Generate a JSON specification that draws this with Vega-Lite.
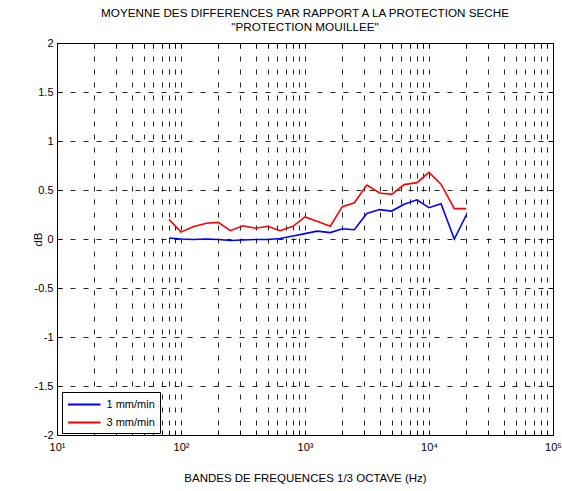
{
  "$schema": "https://vega.github.io/schema/vega-lite/v6.json",
  "width": 496,
  "height": 392,
  "autosize": "none",
  "padding": {"left": 57, "top": 43, "right": 9, "bottom": 56},
  "background": "white",
  "title": {
    "text": ["MOYENNE DES DIFFERENCES PAR RAPPORT A LA PROTECTION SECHE", "\"PROTECTION MOUILLEE\""],
    "font": "Liberation Sans",
    "fontSize": 11.7,
    "fontWeight": "normal",
    "color": "#000",
    "offset": 3,
    "lineHeight": 14,
    "anchor": "middle"
  },
  "config": {
    "view": {"stroke": "#000", "strokeWidth": 1},
    "axis": {
      "labelFont": "Liberation Sans",
      "labelFontSize": 11,
      "labelColor": "#000",
      "titleFont": "Liberation Sans",
      "titleFontSize": 11.5,
      "titleFontWeight": "normal",
      "titleColor": "#000",
      "domainColor": "#000",
      "tickColor": "#000",
      "gridColor": "#000",
      "gridOpacity": 0.85,
      "gridWidth": 1,
      "gridDash": [5, 8]
    }
  },
  "data": {
    "values": [
      {"f": 80, "series": "1 mm/min", "v": 0.01},
      {"f": 100, "series": "1 mm/min", "v": 0.0},
      {"f": 125, "series": "1 mm/min", "v": -0.005},
      {"f": 160, "series": "1 mm/min", "v": 0.0},
      {"f": 200, "series": "1 mm/min", "v": -0.005},
      {"f": 250, "series": "1 mm/min", "v": -0.015},
      {"f": 315, "series": "1 mm/min", "v": -0.01},
      {"f": 400, "series": "1 mm/min", "v": -0.005},
      {"f": 500, "series": "1 mm/min", "v": -0.005},
      {"f": 630, "series": "1 mm/min", "v": 0.005},
      {"f": 800, "series": "1 mm/min", "v": 0.03},
      {"f": 1000, "series": "1 mm/min", "v": 0.055},
      {"f": 1250, "series": "1 mm/min", "v": 0.08},
      {"f": 1600, "series": "1 mm/min", "v": 0.065},
      {"f": 2000, "series": "1 mm/min", "v": 0.105},
      {"f": 2500, "series": "1 mm/min", "v": 0.095},
      {"f": 3150, "series": "1 mm/min", "v": 0.26},
      {"f": 4000, "series": "1 mm/min", "v": 0.3},
      {"f": 5000, "series": "1 mm/min", "v": 0.285},
      {"f": 6300, "series": "1 mm/min", "v": 0.355},
      {"f": 8000, "series": "1 mm/min", "v": 0.4},
      {"f": 10000, "series": "1 mm/min", "v": 0.32},
      {"f": 12500, "series": "1 mm/min", "v": 0.36},
      {"f": 16000, "series": "1 mm/min", "v": 0.0},
      {"f": 20000, "series": "1 mm/min", "v": 0.245},
      {"f": 80, "series": "3 mm/min", "v": 0.2},
      {"f": 100, "series": "3 mm/min", "v": 0.07},
      {"f": 125, "series": "3 mm/min", "v": 0.125},
      {"f": 160, "series": "3 mm/min", "v": 0.16},
      {"f": 200, "series": "3 mm/min", "v": 0.17},
      {"f": 250, "series": "3 mm/min", "v": 0.085},
      {"f": 315, "series": "3 mm/min", "v": 0.135},
      {"f": 400, "series": "3 mm/min", "v": 0.11},
      {"f": 500, "series": "3 mm/min", "v": 0.13},
      {"f": 630, "series": "3 mm/min", "v": 0.085},
      {"f": 800, "series": "3 mm/min", "v": 0.13},
      {"f": 1000, "series": "3 mm/min", "v": 0.225},
      {"f": 1250, "series": "3 mm/min", "v": 0.18},
      {"f": 1600, "series": "3 mm/min", "v": 0.13},
      {"f": 2000, "series": "3 mm/min", "v": 0.33},
      {"f": 2500, "series": "3 mm/min", "v": 0.37},
      {"f": 3150, "series": "3 mm/min", "v": 0.55},
      {"f": 4000, "series": "3 mm/min", "v": 0.47},
      {"f": 5000, "series": "3 mm/min", "v": 0.455},
      {"f": 6300, "series": "3 mm/min", "v": 0.555},
      {"f": 8000, "series": "3 mm/min", "v": 0.575},
      {"f": 10000, "series": "3 mm/min", "v": 0.68},
      {"f": 12500, "series": "3 mm/min", "v": 0.56},
      {"f": 16000, "series": "3 mm/min", "v": 0.31},
      {"f": 20000, "series": "3 mm/min", "v": 0.31}
    ]
  },
  "resolve": {"axis": {"x": "independent", "y": "independent"}},
  "layer": [
    {
      "mark": {"type": "line", "strokeWidth": 1.6, "clip": true},
      "encoding": {
        "x": {
          "field": "f",
          "type": "quantitative",
          "scale": {"type": "log", "domain": [10, 100000], "nice": false},
          "axis": {
            "orient": "bottom",
            "title": "BANDES DE FREQUENCES 1/3 OCTAVE (Hz)",
            "titlePadding": 20,
            "values": [10,20,30,40,50,60,70,80,90,100,200,300,400,500,600,700,800,900,1000,2000,3000,4000,5000,6000,7000,8000,9000,10000,20000,30000,40000,50000,60000,70000,80000,90000,100000],
            "labelExpr": "datum.value == 10 ? '10¹' : datum.value == 100 ? '10²' : datum.value == 1000 ? '10³' : datum.value == 10000 ? '10⁴' : datum.value == 100000 ? '10⁵' : ''",
            "grid": true,
            "tickSize": -5,
            "labelPadding": 11,
            "labelFlush": false,
            "labelOverlap": false
          }
        },
        "y": {
          "field": "v",
          "type": "quantitative",
          "scale": {"domain": [-2, 2], "nice": false, "zero": false},
          "axis": {
            "orient": "left",
            "title": "dB",
            "titleX": -19,
            "titleY": 196,
            "titleAlign": "center",
            "titleBaseline": "middle",
            "values": [-2, -1.5, -1, -0.5, 0, 0.5, 1, 1.5, 2],
            "labelExpr": "'' + datum.value",
            "grid": true,
            "tickSize": -5,
            "labelPadding": 9
          }
        },
        "color": {
          "field": "series",
          "type": "nominal",
          "scale": {"domain": ["1 mm/min", "3 mm/min"], "range": ["#0000ff", "#ff0000"]},
          "legend": {
            "title": null,
            "orient": "none",
            "legendX": 5,
            "legendY": 349,
            "direction": "vertical",
            "symbolType": "M-1,0H4",
            "symbolSize": 169,
            "symbolStrokeWidth": 2,
            "labelFont": "Liberation Sans",
            "labelFontSize": 11,
            "labelColor": "#000",
            "labelOffset": 24.5,
            "rowPadding": 5,
            "padding": 5,
            "strokeColor": "#000",
            "fillColor": "#fff",
            "cornerRadius": 0
          }
        }
      }
    },
    {
      "mark": {"type": "point", "opacity": 0},
      "encoding": {
        "x": {
          "field": "f",
          "type": "quantitative",
          "axis": {
            "orient": "top",
            "title": null,
            "values": [10,20,30,40,50,60,70,80,90,100,200,300,400,500,600,700,800,900,1000,2000,3000,4000,5000,6000,7000,8000,9000,10000,20000,30000,40000,50000,60000,70000,80000,90000,100000],
            "labels": false,
            "grid": false,
            "tickSize": -5
          }
        },
        "y": {
          "field": "v",
          "type": "quantitative",
          "axis": {
            "orient": "right",
            "title": null,
            "values": [-2, -1.5, -1, -0.5, 0, 0.5, 1, 1.5, 2],
            "labels": false,
            "grid": false,
            "tickSize": -5
          }
        }
      }
    }
  ]
}
